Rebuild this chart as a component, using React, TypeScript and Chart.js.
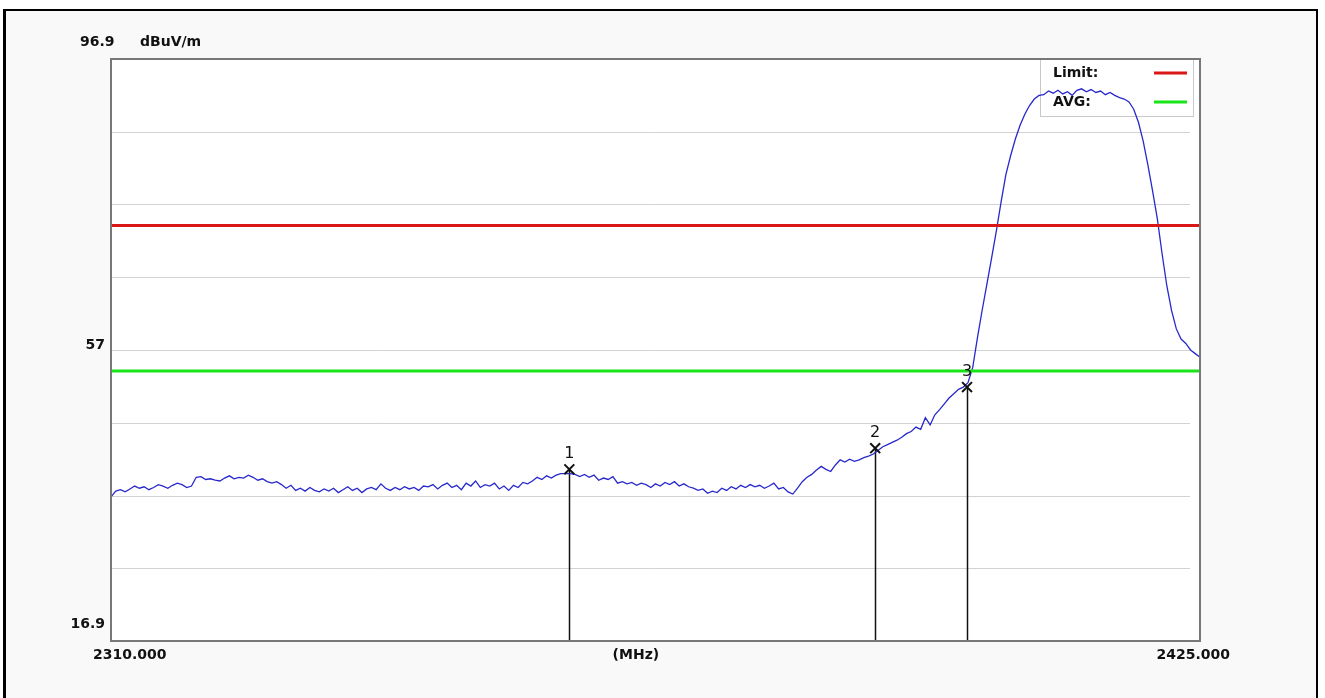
import React, { useEffect, useRef } from "react";
import { Chart, registerables } from "chart.js";

Chart.register(...registerables);

// ---------- data ----------
const F_START = 2310;
const F_STOP = 2425;
const F_STEP = 0.5; // sweep point spacing (MHz)
const LEVEL_MIN = 16.9;
const LEVEL_MAX = 96.9;
const GRID_LEVELS = [26.9, 36.9, 46.9, 56.9, 66.9, 76.9, 86.9];
const Y_TICK_VALUES = [96.9, 57, 16.9];
const Y_TICK_LABELS = ["96.9", "57", "16.9"];
const X_TICK_LABELS = ["2310.000", "(MHz)", "2425.000"];
const UNIT_LABEL = "dBuV/m";

const LIMIT_NAMES = ["Limit:", "AVG:"];
const LIMIT_VALUES = [74, 54];

const MARKER_IDS = ["1", "2", "3"];
const MARKER_FREQS = [2358.4, 2390.7, 2400.4];
const MARKER_LEVELS = [40.5, 43.4, 51.8];

const TRACE_LEVELS = [
  36.7, 37.5, 37.7, 37.4, 37.8, 38.2, 37.9, 38.1, 37.7, 38.0,
  38.4, 38.2, 37.9, 38.3, 38.6, 38.4, 38.0, 38.2, 39.4, 39.5,
  39.1, 39.2, 39.0, 38.9, 39.3, 39.6, 39.2, 39.4, 39.3, 39.7,
  39.4, 39.0, 39.2, 38.8, 38.6, 38.8, 38.4, 37.9, 38.3, 37.6,
  37.9, 37.5, 38.0, 37.6, 37.4, 37.8, 37.5, 37.9, 37.3, 37.7,
  38.1, 37.6, 37.9, 37.3, 37.8, 38.0, 37.7, 38.5, 37.9, 37.6,
  38.0, 37.7, 38.1, 37.8, 38.0, 37.6, 38.2, 38.1, 38.4, 37.8,
  38.3, 38.6, 38.0, 38.3, 37.7, 38.6, 38.2, 38.9, 38.0, 38.4,
  38.2, 38.6, 37.8, 38.2, 37.6, 38.3, 38.0, 38.7, 38.5, 38.9,
  39.4, 39.1, 39.6, 39.3, 39.7, 39.9, 39.9, 39.9, 39.8, 39.5,
  39.8, 39.4, 39.7, 39.0, 39.3, 39.1, 39.5, 38.6, 38.8, 38.5,
  38.7, 38.3, 38.6, 38.4, 38.0, 38.5, 38.2, 38.7, 38.4, 38.8,
  38.2, 38.5, 38.1, 37.9, 37.6, 37.8, 37.2, 37.5, 37.3, 37.9,
  37.6, 38.1, 37.8, 38.3, 38.0, 38.4, 38.1, 38.3, 37.9, 38.2,
  38.6, 37.8, 38.0, 37.4, 37.1, 37.9, 38.8, 39.4, 39.8, 40.4,
  40.9, 40.5, 40.2, 41.1, 41.8, 41.5, 41.9, 41.6, 41.8, 42.1,
  42.3, 42.6, 43.1, 43.6, 43.9, 44.2, 44.5, 44.9, 45.4, 45.7,
  46.3, 46.0, 47.6, 46.6, 48.0, 48.7, 49.5, 50.3, 50.9, 51.5,
  51.8, 52.4, 54.5, 58.6, 62.4, 66.0, 69.6, 73.3, 77.3, 81.0,
  83.6, 85.9, 87.8, 89.3, 90.5, 91.4, 91.9, 92.0, 92.5, 92.2,
  92.6, 92.1, 92.4, 91.9, 92.6, 92.8, 92.4, 92.7, 92.3, 92.5,
  92.0, 92.3, 91.9, 91.6, 91.4, 91.0, 90.0, 88.2, 85.6, 82.3,
  78.7, 74.9, 70.1, 65.7, 62.3, 59.8, 58.4, 57.8, 56.9, 56.4, 55.9,
];

// ---------- styles ----------
const TRACE_COLOR = "rgb(40,40,205)";
const LIMIT_COLORS = ["rgb(218,22,22)", "rgb(24,228,24)"];
const AXIS_FONT = "bold 14px 'DejaVu Sans', sans-serif";
const MARKER_FONT = "16px 'DejaVu Sans', sans-serif";

const W = 1325;
const H = 698;

const framePlugin = {
  id: "analyzerFrame",
  beforeDraw(chart: any) {
    const { ctx, chartArea: a } = chart;
    const ys = chart.scales.y;
    ctx.save();
    ctx.fillStyle = "#ffffff";
    ctx.fillRect(0, 0, W, H);
    ctx.fillStyle = "#f9f9f9";
    ctx.fillRect(6, 11, 1310, H - 11);
    ctx.fillStyle = "#ffffff";
    ctx.fillRect(a.left, a.top, a.right - a.left, a.bottom - a.top);
    // outer black frame
    ctx.fillStyle = "#000000";
    ctx.fillRect(3, 9, 3, H - 9);
    ctx.fillRect(3, 9, 1315, 2);
    ctx.fillRect(1316, 9, 2, H - 9);
    // horizontal grid
    ctx.strokeStyle = "#d2d2d2";
    ctx.lineWidth = 1;
    GRID_LEVELS.forEach((v) => {
      const y = Math.round(ys.getPixelForValue(v)) + 0.5;
      ctx.beginPath();
      ctx.moveTo(a.left, y);
      ctx.lineTo(a.right - 10, y);
      ctx.stroke();
    });
    ctx.restore();
  },
  beforeDatasetsDraw(chart: any) {
    const { ctx, chartArea: a } = chart;
    const xs = chart.scales.x;
    const ys = chart.scales.y;
    ctx.save();
    // legend box
    const bx = a.right - 160;
    const by = a.top;
    ctx.fillStyle = "#ffffff";
    ctx.fillRect(bx, by, 153, 57);
    ctx.strokeStyle = "#c8c8c8";
    ctx.lineWidth = 1;
    ctx.strokeRect(bx + 0.5, by + 0.5, 153, 57);
    ctx.font = AXIS_FONT;
    ctx.fillStyle = "#111111";
    ctx.textBaseline = "middle";
    ctx.textAlign = "left";
    LIMIT_NAMES.forEach((name, i) => {
      const y = by + 14 + i * 29;
      ctx.fillText(name, bx + 13, y);
      ctx.strokeStyle = LIMIT_COLORS[i];
      ctx.lineWidth = 3;
      ctx.beginPath();
      ctx.moveTo(bx + 114, y);
      ctx.lineTo(bx + 147, y);
      ctx.stroke();
    });
    // marker stems
    ctx.strokeStyle = "#111111";
    ctx.lineWidth = 1.5;
    MARKER_FREQS.forEach((f, i) => {
      const x = Math.round(xs.getPixelForValue(f)) + 0.5;
      ctx.beginPath();
      ctx.moveTo(x, ys.getPixelForValue(MARKER_LEVELS[i]));
      ctx.lineTo(x, a.bottom);
      ctx.stroke();
    });
    ctx.restore();
  },
  afterDraw(chart: any) {
    const { ctx, chartArea: a } = chart;
    const xs = chart.scales.x;
    const ys = chart.scales.y;
    ctx.save();
    // plot border
    ctx.strokeStyle = "#787878";
    ctx.lineWidth = 2;
    ctx.strokeRect(a.left, a.top, a.right - a.left, a.bottom - a.top);
    // marker labels
    ctx.font = MARKER_FONT;
    ctx.fillStyle = "#111111";
    ctx.textAlign = "center";
    ctx.textBaseline = "middle";
    MARKER_IDS.forEach((id, i) => {
      ctx.fillText(id, xs.getPixelForValue(MARKER_FREQS[i]), ys.getPixelForValue(MARKER_LEVELS[i]) - 15);
    });
    // axis texts
    ctx.font = AXIS_FONT;
    ctx.fillStyle = "#111111";
    ctx.textBaseline = "middle";
    const yOffsets = [-17, -4, -17];
    Y_TICK_LABELS.forEach((t, i) => {
      const y = ys.getPixelForValue(Y_TICK_VALUES[i]) + yOffsets[i];
      if (i === 0) {
        ctx.textAlign = "left";
        ctx.fillText(t, a.left - 31, y);
        ctx.fillText(UNIT_LABEL, a.left + 29, y);
      } else {
        ctx.textAlign = "right";
        ctx.fillText(t, a.left - 6, y);
      }
    });
    const xy = a.bottom + 14;
    ctx.textAlign = "left";
    ctx.fillText(X_TICK_LABELS[0], a.left - 18, xy);
    ctx.textAlign = "center";
    ctx.fillText(X_TICK_LABELS[1], a.left + (a.right - a.left) * 0.482, xy);
    ctx.textAlign = "right";
    ctx.fillText(X_TICK_LABELS[2], a.right + 30, xy);
    ctx.restore();
  },
};

export default function App() {
  const canvasRef = useRef<HTMLCanvasElement | null>(null);

  useEffect(() => {
    if (!canvasRef.current) return;
    const freqs = TRACE_LEVELS.map((_, i) => F_START + i * F_STEP);
    const chart = new Chart(canvasRef.current, {
      type: "line",
      data: {
        datasets: [
          {
            label: "Markers",
            data: MARKER_FREQS.map((f, i) => ({ x: f, y: MARKER_LEVELS[i] })),
            showLine: false,
            pointStyle: "crossRot",
            pointRadius: 7,
            pointBorderColor: "#111111",
            pointBorderWidth: 2,
            pointBackgroundColor: "#111111",
            order: 0,
          },
          ...LIMIT_NAMES.map((name, i) => ({
            label: name,
            data: [
              { x: F_START, y: LIMIT_VALUES[i] },
              { x: F_STOP, y: LIMIT_VALUES[i] },
            ],
            borderColor: LIMIT_COLORS[i],
            borderWidth: 3,
            pointRadius: 0,
            order: 1,
          })),
          {
            label: "Trace",
            data: freqs.map((f, i) => ({ x: f, y: TRACE_LEVELS[i] })),
            borderColor: TRACE_COLOR,
            borderWidth: 1.3,
            pointRadius: 0,
            tension: 0,
            order: 2,
          },
        ],
      } as any,
      options: {
        responsive: false,
        animation: false,
        layout: { padding: { left: 111, top: 59, right: 125, bottom: 57 } },
        plugins: { legend: { display: false }, tooltip: { enabled: false } },
        scales: {
          x: { type: "linear", min: F_START, max: F_STOP, display: false },
          y: { type: "linear", min: LEVEL_MIN, max: LEVEL_MAX, display: false },
        },
      } as any,
      plugins: [framePlugin],
    });
    return () => chart.destroy();
  }, []);

  return (
    <div style={{ position: "fixed", left: 0, top: 0, width: W, height: H, background: "#fff" }}>
      <canvas ref={canvasRef} width={W} height={H} style={{ display: "block" }} />
    </div>
  );
}
